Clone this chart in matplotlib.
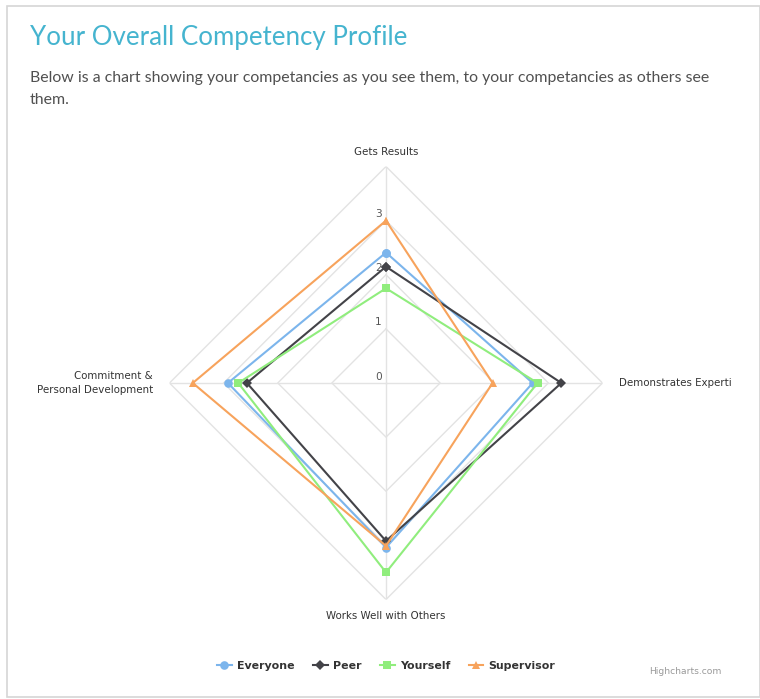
import numpy as np
import matplotlib
matplotlib.use("Agg")
import matplotlib.pyplot as plt
from matplotlib.patches import Rectangle

# ---------------------------------------------------------------------------
# data
# ---------------------------------------------------------------------------
categories = ["Gets Results", "Demonstrates Experti", "Works Well with Others",
              "Commitment &\nPersonal Development"]
everyone = [2.41, 2.71, 3.04, 2.92]
peer = [2.15, 3.24, 2.92, 2.57]
yourself = [1.75, 2.80, 3.50, 2.73]
supervisor = [3.00, 1.97, 3.01, 3.57]
series_names = ["Everyone", "Peer", "Yourself", "Supervisor"]
radial_ticks = [0, 1, 2, 3]
grid_levels = [1, 2, 3, 4]

colours = ["#7cb5ec", "#434348", "#90ed7d", "#f7a35c"]
markers = ["o", "D", "s", "^"]
msizes = [6.2, 4.8, 5.8, 6.2]

W, H = 760, 699
fig = plt.figure(figsize=(W / 100, H / 100), dpi=100)
fig.patch.set_facecolor("white")

# card frame
fig.patches.append(Rectangle((7 / W, 1 - 697 / H), (W - 7) / W, (697 - 6) / H,
                             transform=fig.transFigure, facecolor="none",
                             edgecolor="#d6d6d6", linewidth=1.2, zorder=-1))

fig.text(30 / W, 1 - 37 / H, "Your Overall Competency Profile", family="Lato",
         fontsize=18.6, color="#45b4cf", va="center", ha="left")
fig.text(30 / W, 1 - 89 / H,
         "Below is a chart showing your competancies as you see them, to your competancies as others see\nthem.",
         family="Lato", fontsize=11.45, color="#505050", va="center", ha="left",
         linespacing=1.75)

# polar axes, centre at (386, 383) px, outer radius ~216 px
cx, cy, R = 386, 383, 216.5
ax = fig.add_axes([(cx - R) / W, (H - cy - R) / H, 2 * R / W, 2 * R / H],
                  projection="polar")
ax.set_theta_zero_location("N")
ax.set_theta_direction(-1)
ax.set_ylim(0, 4)
ax.grid(False)
ax.spines["polar"].set_visible(False)
ax.set_xticks([])
ax.set_yticks([])
ax.patch.set_alpha(0)

theta = np.arange(len(categories)) * 2 * np.pi / len(categories)
closed = np.append(theta, theta[0])

# grid diamonds and spokes
for lv in grid_levels:
    ax.plot(closed, [lv] * len(closed), color="#e3e3e3", lw=1.0, zorder=1)
for t in theta:
    ax.plot([t, t], [0, grid_levels[-1]], color="#e3e3e3", lw=1.0, zorder=1)

# radial labels along the top spoke
for r in radial_ticks:
    ax.annotate(str(r), (0, r), xytext=(-3, 1), textcoords="offset points",
                ha="right", va="bottom", fontsize=7.6, color="#555555",
                family="DejaVu Sans")

# category labels
offsets = [((0, 6.5), "center", "bottom", "center"),
           ((12, 0), "left", "center", "left"),
           ((0, -8.5), "center", "top", "center"),
           ((-12, 0), "right", "center", "right")]
for t, lab, (off, ha, va, ma) in zip(theta, categories, offsets):
    ax.annotate(lab, (t, grid_levels[-1]), xytext=off, textcoords="offset points",
                ha=ha, va=va, multialignment=ma, fontsize=7.4, color="#333333",
                family="DejaVu Sans", linespacing=1.55)

handles = []
for name, vals, c, m, ms in zip(series_names, [everyone, peer, yourself, supervisor],
                                colours, markers, msizes):
    v = np.append(vals, vals[0])
    ln, = ax.plot(closed, v, color=c, lw=1.5, marker=m, markersize=ms,
                  markeredgewidth=0, label=name, zorder=3, clip_on=False)
    handles.append(ln)

leg = fig.legend(handles=handles, loc="center", bbox_to_anchor=(386 / W, 1 - 666 / H),
                 ncol=4, frameon=False, handlelength=1.35, handletextpad=0.45,
                 columnspacing=1.7, prop={"family": "DejaVu Sans", "weight": "bold",
                                          "size": 7.9})
for txt in leg.get_texts():
    txt.set_color("#333333")

fig.text(722 / W, 1 - 671 / H, "Highcharts.com", ha="right", va="center",
         fontsize=6.6, color="#999999", family="DejaVu Sans")

fig.savefig("out.png", dpi=100, facecolor="white")
